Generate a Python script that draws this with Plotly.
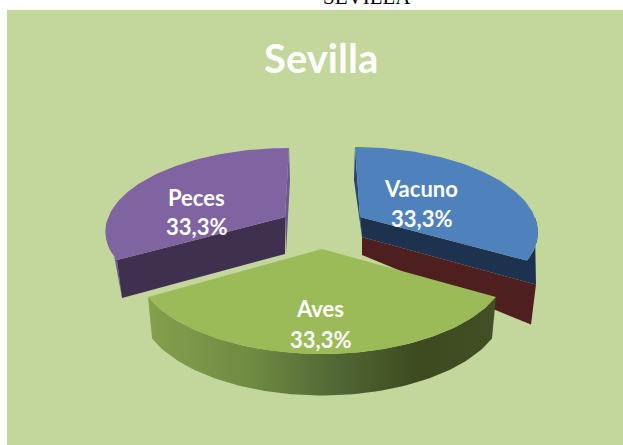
"""Sevilla: exploded 3D pie, drawn as projected slices on hidden pixel axes."""

import numpy as np
import plotly.graph_objects as go

# ── Data ──────────────────────────────────────────────────────────────────────
categories = ["Vacuno", "Aves", "Peces"]
values = [33.3, 33.3, 33.3]
chart_title = "Sevilla"
page_heading = "SEVILLA"

# ── Style ─────────────────────────────────────────────────────────────────────
W, H = 623, 445
_BG = "#c3d69b"
_TOP = {"Vacuno": "#4f81bd", "Aves": "#9bbb59", "Peces": "#8064a2"}
_NAVY = "#1c324e"
_RED = "#4f1f1f"
_PURPLE_DARK = "#3f304f"
_PURPLE_WALL = "#75589a"
_PURPLE_EDGE = "#6c5590"
_NAVY_EDGE = "#27466b"
_FONT = "Lato, sans-serif"

# apex, radii, shear and perspective of each exploded slice
_GEOM = {
    "Vacuno": dict(ax=360, ay=217, rx=174.8, ry=80.6, sh=5.8, p=0.152),
    "Aves": dict(ax=322, ay=249, rx=185.0, ry=88.4, sh=0.0, p=0.158),
    "Peces": dict(ax=285, ay=217, rx=176.6, ry=79.5, sh=-4.6, p=0.152),
}
_LABEL_POS = {"Vacuno": (421, 188, 218), "Aves": (320, 308, 339), "Peces": (196, 197, 226)}

# slice angles, clockwise from the back of the pie
edges = np.concatenate([[0], np.cumsum(values)]) / sum(values) * 360
angles = {c: (edges[i], edges[i + 1]) for i, c in enumerate(categories)}


def project(cat, theta):
    """Clock angle(s) in degrees -> pixel x, y on the slice's top rim."""
    g = _GEOM[cat]
    t = np.radians(theta)
    u, v = np.sin(t), -np.cos(t)
    w = 1 - g["p"] * v
    return (g["ax"] + (g["rx"] * u + g["sh"] * v) / w, g["ay"] + g["ry"] * v / w)


def arc(cat, a, b, n=80):
    return project(cat, np.linspace(a, b, n))


def add_poly(fig, xs, ys, color=None, **kwargs):
    fig.add_trace(go.Scatter(
        x=list(xs), y=list(ys),
        mode="lines", line=dict(width=0),
        fill="toself", fillcolor=color,
        hoverinfo="skip",
        **kwargs,
    ))


def add_top(fig, cat):
    g = _GEOM[cat]
    x, y = arc(cat, *angles[cat])
    add_poly(fig, [g["ax"], *x], [g["ay"], *y], _TOP[cat])


fig = go.Figure()

# ── Peces ─────────────────────────────────────────────────────────────────────
g = _GEOM["Peces"]
a, b = angles["Peces"]
cx, cy = project("Peces", a)
ex, ey = project("Peces", b)
x, y = arc("Peces", a, a + 28, 30)
add_poly(fig, [*x, cx + 5], [*y, cy + 38], _PURPLE_WALL)
add_poly(fig, [ex, ex + 1, g["ax"] + 1, g["ax"]],
         [ey, ey + 32, g["ay"] + 37, g["ay"]], _PURPLE_EDGE)
add_poly(fig, [cx, g["ax"], g["ax"], cx + 5],
         [cy, g["ay"], g["ay"] + 37, cy + 38], _PURPLE_DARK)
add_top(fig, "Peces")

# ── Vacuno, with the empty category's flat face under it ──────────────────────
g = _GEOM["Vacuno"]
a, b = angles["Vacuno"]
cx, cy = project("Vacuno", b)
sx, sy = project("Vacuno", a)
x, y = arc("Vacuno", b, b - 30, 30)
add_poly(fig, [sx, sx - 1, g["ax"] + 2, g["ax"]],
         [sy, sy + 33, g["ay"] + 20, g["ay"]], _NAVY_EDGE)
add_poly(fig, [g["ax"], *x, cx + 9, g["ax"] + 2],
         [g["ay"], *y, cy + 24, g["ay"] + 20], _NAVY)
add_poly(fig, [g["ax"] + 2, cx + 9, cx + 4, g["ax"] + 2],
         [g["ay"] + 20, cy + 24, cy + 64, g["ay"] + 38], _RED)
add_top(fig, "Vacuno")

# ── Aves, front wall with its sideways shading ────────────────────────────────
g = _GEOM["Aves"]
a, b = angles["Aves"]
x, y = arc("Aves", a, b)
x_low = g["ax"] + (x - g["ax"]) * 0.977
add_poly(fig, [*x, *x_low[::-1]], [*y, *(y[::-1] + 41.5)],
         fillgradient=dict(
             type="horizontal",
             colorscale=[
                 [0.0, "#84a04c"], [0.3, "#6f8a42"], [0.55, "#506634"],
                 [0.78, "#3d4a20"], [1.0, "#434f24"],
             ],
         ))
add_top(fig, "Aves")

# ── Text ──────────────────────────────────────────────────────────────────────
annotations = [
    dict(x=321, y=58, text=f"<b>{chart_title}</b>",
         font=dict(family=_FONT, size=40, color="white")),
    # page heading above the panel, cut off by the top of the page
    dict(x=367, y=0, yanchor="bottom", yshift=-11, text=page_heading,
         font=dict(family="Liberation Serif, serif", size=21, color="black")),
]
for cat, val in zip(categories, values):
    lx, y_name, y_pct = _LABEL_POS[cat]
    pct = f"{val:.1f}".replace(".", ",") + "%"
    for txt, ly in ((cat, y_name), (pct, y_pct)):
        annotations.append(dict(x=lx, y=ly, text=f"<b>{txt}</b>",
                                font=dict(family=_FONT, size=22, color="white")))

fig.update_layout(
    width=W, height=H,
    margin=dict(l=0, r=0, t=0, b=0),
    paper_bgcolor="white",
    plot_bgcolor="white",
    showlegend=False,
    xaxis=dict(range=[0, W], visible=False, fixedrange=True),
    yaxis=dict(range=[H, 0], visible=False, fixedrange=True),
    shapes=[dict(type="rect", xref="x", yref="y", x0=7, x1=W, y0=10, y1=H,
                 fillcolor=_BG, line_width=0, layer="below")],
    annotations=[{"xanchor": "center", "yanchor": "middle", **a,
                  "xref": "x", "yref": "y", "showarrow": False} for a in annotations],
)

fig.write_html("out.html", config={"displayModeBar": False},
               post_script="document.body.style.margin='0';")
